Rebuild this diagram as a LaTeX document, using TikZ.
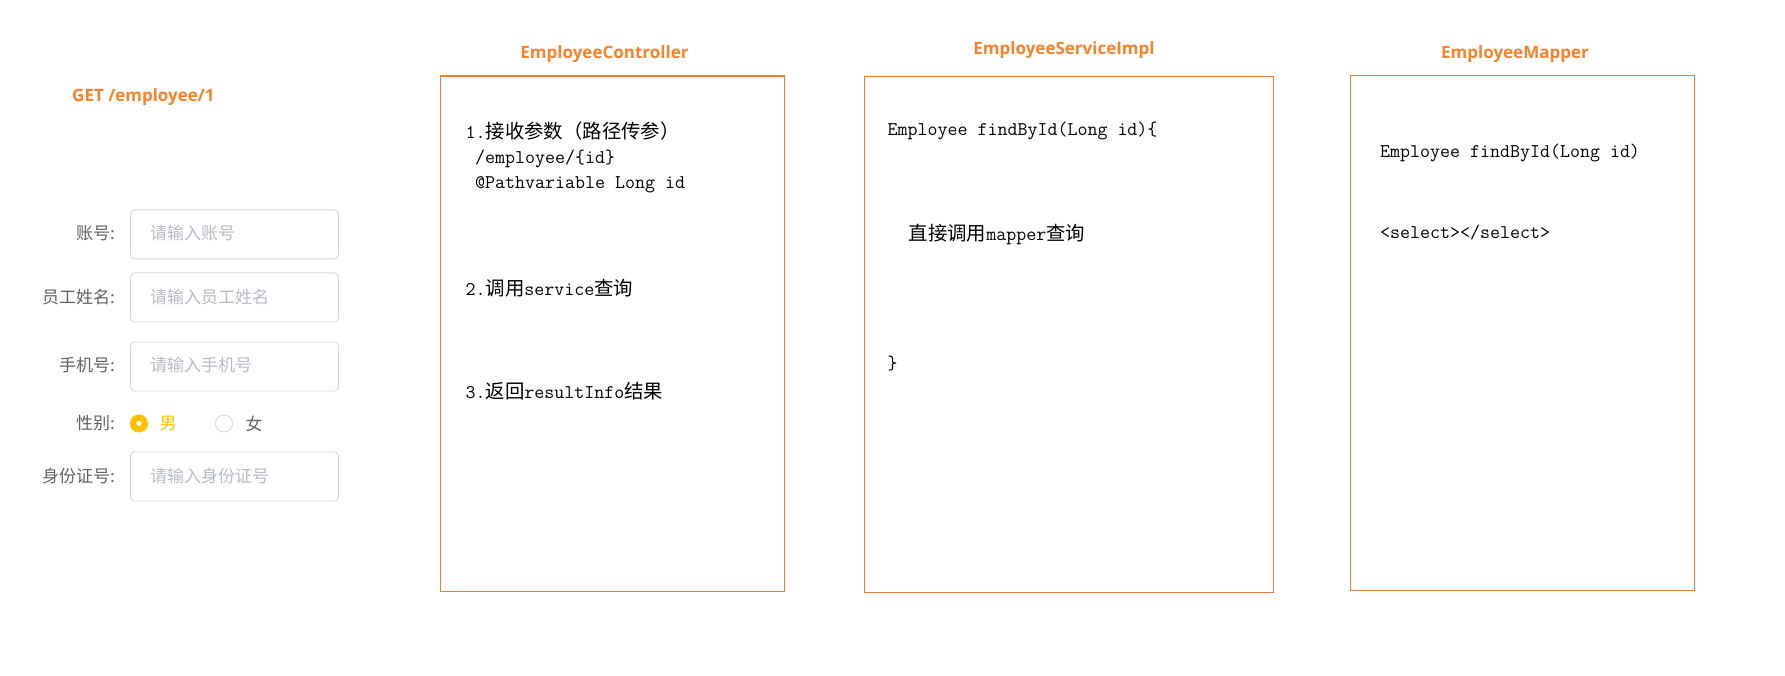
\documentclass[tikz,border=0pt]{standalone}
\usepackage{fontspec}
\setmainfont{Noto Sans CJK SC}
\newfontfamily\cjk{Noto Sans CJK SC}
\newfontfamily\titlef{Open Sans Bold}
\setmonofont{Latin Modern Mono}
\newcommand\zh[1]{{\cjk #1}}
\definecolor{boxorange}{HTML}{ED7D31}
\definecolor{titleorange}{HTML}{F7822B}
\definecolor{labelgray}{HTML}{606266}
\definecolor{holdergray}{HTML}{B8BCC8}
\definecolor{inputborder}{HTML}{D6D9E0}
\definecolor{radioyellow}{HTML}{FFC000}
\tikzset{
  panel/.style={draw=boxorange, line width=1.1pt, anchor=north west, inner sep=0pt, minimum width=344pt, minimum height=515pt},
  paneltitle/.style={font=\titlef\fontsize{17}{17}\selectfont, text=titleorange, inner sep=0pt},
  codeline/.style={font=\ttfamily\fontsize{19.4}{19.4}\selectfont, anchor=west, inner sep=0pt, text=black},
  formlabel/.style={font=\cjk\fontsize{17}{17}\selectfont, text=labelgray, anchor=east, inner sep=0pt},
  inputbox/.style={draw=inputborder, line width=0.9pt, rounded corners=4pt, anchor=north west, minimum width=208pt, minimum height=49pt, inner sep=0pt},
  holder/.style={font=\cjk\fontsize{17}{17}\selectfont, text=holdergray, anchor=west, inner sep=0pt},
}
\begin{document}
\begin{tikzpicture}[x=1pt,y=-1pt]
\useasboundingbox[fill=white] (0,0) rectangle (1785,676);

% request
\node[paneltitle, anchor=west] (req) at (72,97) {GET /employee/1};

% form
\node[formlabel] (l1) at (115,233) {账号:};
\node[inputbox] (i1) at (130,209.5) {};
\node[holder] (h1) at (150,233.5) {请输入账号};

\node[formlabel] (l2) at (115,297) {员工姓名:};
\node[inputbox] (i2) at (130,272.5) {};
\node[holder] (h2) at (150,297) {请输入员工姓名};

\node[formlabel] (l3) at (115,365.5) {手机号:};
\node[inputbox] (i3) at (130,341.5) {};
\node[holder] (h3) at (150,365.5) {请输入手机号};

\node[formlabel] (l4) at (115,423.5) {性别:};
\node[circle, fill=radioyellow, minimum size=18pt, inner sep=0pt] (r1) at (139,423.5) {};
\fill[white] (r1.center) circle (2.6pt);
\node[font=\cjk\fontsize{17}{17}\selectfont, text=radioyellow, inner sep=0pt] (t1) at (168,423.5) {男};
\node[circle, draw=inputborder, line width=0.9pt, minimum size=17pt, inner sep=0pt] (r2) at (224,423.5) {};
\node[font=\cjk\fontsize{17}{17}\selectfont, text=labelgray, inner sep=0pt] (t2) at (254,423.5) {女};

\node[formlabel] (l5) at (115,476) {身份证号:};
\node[inputbox] (i5) at (130,451.5) {};
\node[holder] (h5) at (150,476) {请输入身份证号};

% controller
\node[paneltitle] (ct) at (604.5,54) {EmployeeController};
\node[panel] (ctrl) at (439.5,75.5) {};
\node[codeline] (c1) at (465.5,131) {1.\zh{接收参数（路径传参）}};
\node[codeline] (c2) at (475,158.5) {/employee/\{id\}};
\node[codeline] (c3) at (475,184.5) {@Pathvariable Long id};
\node[codeline] (c4) at (465.5,288) {2.\zh{调用}service\zh{查询}};
\node[codeline] (c5) at (465.5,391) {3.\zh{返回}resultInfo\zh{结果}};

% service
\node[paneltitle] (st) at (1064,50) {EmployeeServiceImpl};
\node[panel, minimum width=409.5pt, minimum height=515.5pt] (svc) at (863.5,76.3) {};
\node[codeline] (s1) at (887.5,131) {Employee findById(Long id)\{};
\node[codeline] (s2) at (908.5,234) {\zh{直接调用}mapper\zh{查询}};
\node[codeline] (s3) at (887.5,363.5) {\}};

% mapper
\node[paneltitle] (mt) at (1515,54) {EmployeeMapper};
\node[panel] (map) at (1350.3,74.8) {};
\node[codeline] (m1) at (1380,153) {Employee findById(Long id)};
\node[codeline] (m2) at (1380,232.5) {<select></select>};
\end{tikzpicture}
\end{document}
